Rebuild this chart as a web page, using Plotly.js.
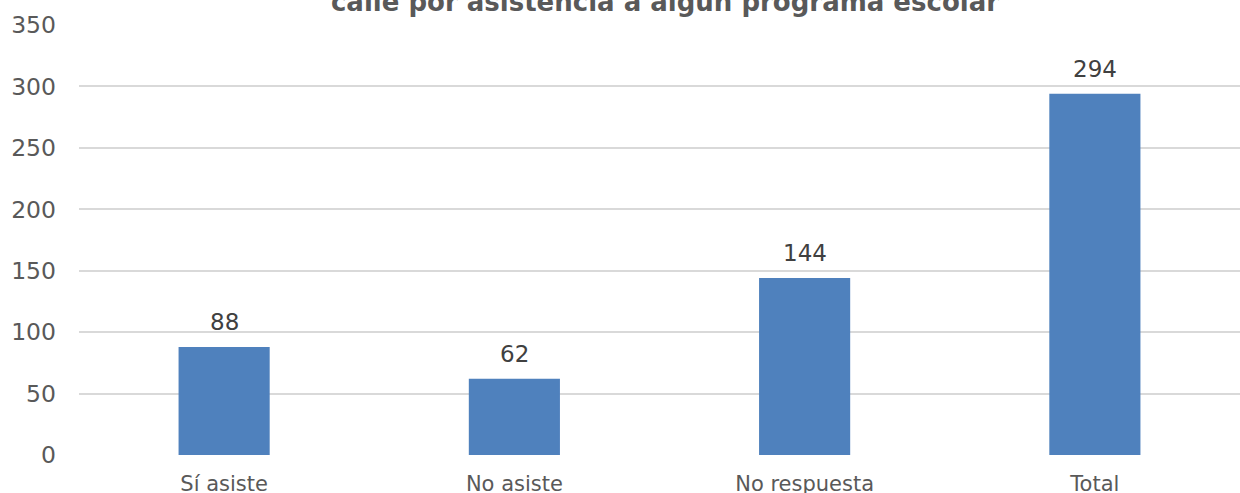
<!DOCTYPE html>
<html>
<head>
<meta charset="utf-8">
<script src="https://cdn.plot.ly/plotly-3.0.1.min.js"></script>
<style>
html,body{margin:0;padding:0;background:#fff;}
#chart{width:1240px;height:493px;}
</style>
</head>
<body>
<div id="chart"></div>
<script>
const categories = ["Sí asiste", "No asiste", "No respuesta", "Total"];
const values = [88, 62, 144, 294];
const yTicks = [0, 50, 100, 150, 200, 250, 300, 350];
const titleText = "calle por asistencia a algún programa escolar";

const trace = {
  type: "bar",
  x: categories,
  y: values,
  marker: {color: "#4f81bd"},
  hoverinfo: "x+y"
};

const annotations = categories.map((c, i) => ({
  x: c, y: values[i], xref: "x", yref: "y",
  text: String(values[i]),
  showarrow: false,
  yanchor: "bottom",
  yshift: 10,
  font: {family: "DejaVu Sans, Verdana, sans-serif", size: 23, color: "#404040"}
}));

const layout = {
  width: 1240, height: 493,
  margin: {l: 79, r: 0, t: 25, b: 38},
  paper_bgcolor: "#ffffff",
  plot_bgcolor: "#ffffff",
  title: {
    text: "<b>" + titleText + "</b>",
    x: 665/1240, xanchor: "center", xref: "container",
    y: 1 - 2/493, yanchor: "middle", yref: "container",
    font: {family: "DejaVu Sans, Verdana, sans-serif", size: 26, color: "#595959"}
  },
  bargap: 0.686,
  showlegend: false,
  xaxis: {
    type: "category",
    tickfont: {family: "DejaVu Sans, Verdana, sans-serif", size: 21, color: "#595959"},
    showgrid: false, zeroline: false, showline: false,
    ticks: "", ticklabelstandoff: 14
  },
  yaxis: {
    range: [0, 350],
    tickvals: yTicks,
    ticktext: yTicks.map(String),
    tickfont: {family: "DejaVu Sans, Verdana, sans-serif", size: 23.5, color: "#595959"},
    showgrid: true, gridcolor: "#d9d9d9", gridwidth: 2,
    zeroline: false, showline: false,
    ticks: "", ticklabelstandoff: 22
  },
  annotations: annotations
};

Plotly.newPlot("chart", [trace], layout, {displayModeBar: false, staticPlot: true});
</script>
</body>
</html>
